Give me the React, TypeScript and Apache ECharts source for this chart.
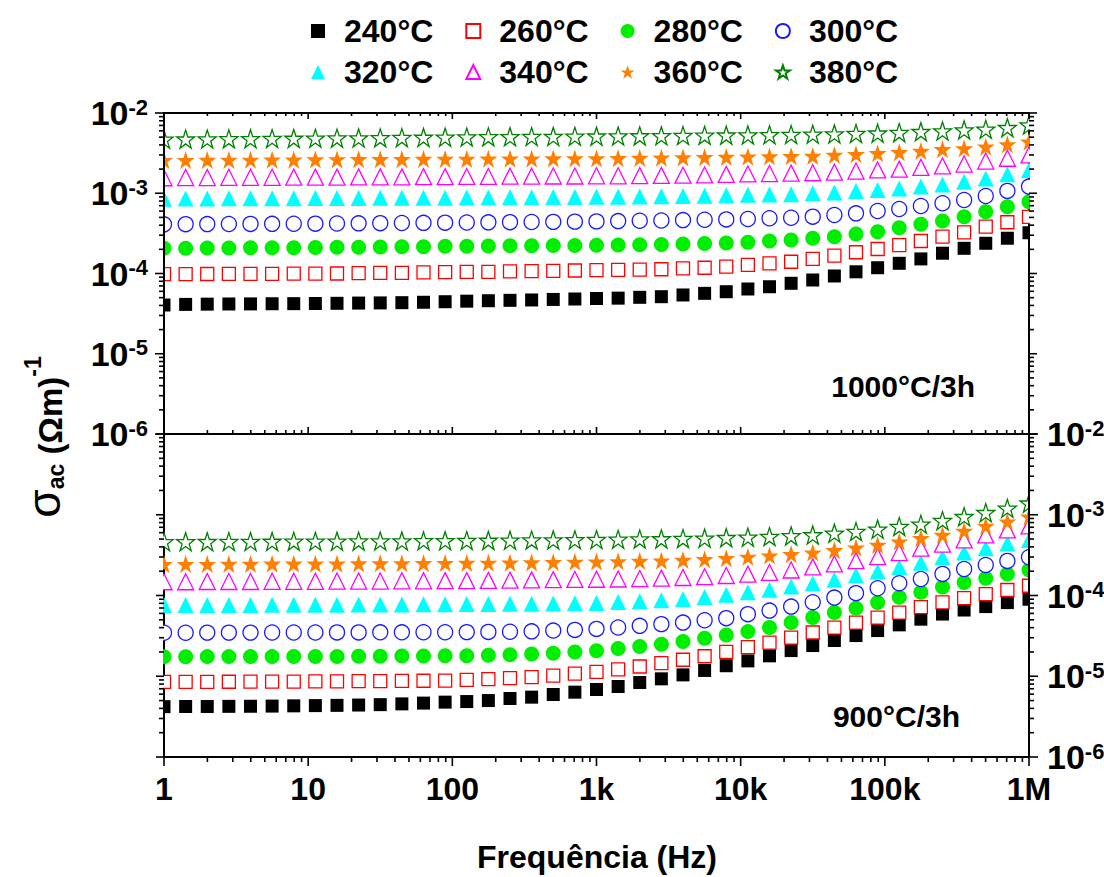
import React, { useEffect, useRef } from 'react';
import * as echarts from 'echarts';

// Frequencies (Hz), 20 points every 3 decades
const frequencies = [
  1, 1.413, 1.995, 2.818, 3.981, 5.623, 7.943, 11.22, 15.85, 22.39, 31.62, 44.67, 63.1, 89.13,
  125.9, 177.8, 251.2, 354.8, 501.2, 707.9, 1000, 1413, 1995, 2818, 3981, 5623, 7943, 11220,
  15850, 22390, 31620, 44670, 63100, 89130, 125900, 177800, 251200, 354800, 501200, 707900, 1000000,
];

const seriesNames = ['240°C', '260°C', '280°C', '300°C', '320°C', '340°C', '360°C', '380°C'];
const panelLabels = ['1000°C/3h', '900°C/3h'];
const xTickLabels = ['1', '10', '100', '1k', '10k', '100k', '1M'];
const xDecades = [1, 10, 100, 1e3, 1e4, 1e5, 1e6];
const yDecades = [1e-6, 1e-5, 1e-4, 1e-3, 1e-2];
const xTitle = 'Frequência (Hz)';

// ---- 1000°C/3h (top panel) ----
const top240 = [4.05e-5, 4.12e-5, 4.15e-5, 4.17e-5, 4.18e-5, 4.2e-5, 4.21e-5, 4.23e-5, 4.25e-5, 4.28e-5, 4.3e-5, 4.33e-5, 4.38e-5, 4.45e-5, 4.52e-5, 4.58e-5, 4.63e-5, 4.68e-5, 4.75e-5, 4.81e-5, 4.88e-5, 4.93e-5, 5.05e-5, 5.14e-5, 5.4e-5, 5.66e-5, 5.93e-5, 6.41e-5, 6.84e-5, 7.55e-5, 8.3e-5, 9.31e-5, 1.05e-4, 1.18e-4, 1.34e-4, 1.52e-4, 1.79e-4, 2.06e-4, 2.38e-4, 2.75e-4, 3.22e-4];
const top260 = [9.8e-5, 9.85e-5, 9.86e-5, 9.88e-5, 9.9e-5, 9.92e-5, 9.95e-5, 9.98e-5, 1.0e-4, 1.01e-4, 1.02e-4, 1.02e-4, 1.03e-4, 1.04e-4, 1.05e-4, 1.05e-4, 1.06e-4, 1.07e-4, 1.08e-4, 1.09e-4, 1.1e-4, 1.11e-4, 1.12e-4, 1.13e-4, 1.16e-4, 1.18e-4, 1.22e-4, 1.28e-4, 1.34e-4, 1.4e-4, 1.52e-4, 1.67e-4, 1.84e-4, 2.02e-4, 2.26e-4, 2.54e-4, 2.88e-4, 3.26e-4, 3.83e-4, 4.35e-4, 5.09e-4];
const top280 = [2.06e-4, 2.07e-4, 2.08e-4, 2.08e-4, 2.09e-4, 2.1e-4, 2.1e-4, 2.11e-4, 2.12e-4, 2.13e-4, 2.14e-4, 2.15e-4, 2.16e-4, 2.18e-4, 2.19e-4, 2.2e-4, 2.21e-4, 2.22e-4, 2.23e-4, 2.24e-4, 2.25e-4, 2.26e-4, 2.28e-4, 2.3e-4, 2.33e-4, 2.36e-4, 2.4e-4, 2.45e-4, 2.54e-4, 2.61e-4, 2.75e-4, 2.88e-4, 3.1e-4, 3.32e-4, 3.72e-4, 4.1e-4, 4.51e-4, 5.11e-4, 5.89e-4, 6.79e-4, 7.85e-4];
const top300 = [4.1e-4, 4.12e-4, 4.13e-4, 4.14e-4, 4.15e-4, 4.16e-4, 4.17e-4, 4.18e-4, 4.2e-4, 4.22e-4, 4.24e-4, 4.26e-4, 4.28e-4, 4.3e-4, 4.32e-4, 4.34e-4, 4.36e-4, 4.38e-4, 4.4e-4, 4.43e-4, 4.46e-4, 4.5e-4, 4.54e-4, 4.58e-4, 4.63e-4, 4.68e-4, 4.72e-4, 4.78e-4, 4.88e-4, 4.95e-4, 5.11e-4, 5.36e-4, 5.62e-4, 6.01e-4, 6.37e-4, 6.93e-4, 7.5e-4, 8.24e-4, 9.25e-4, 1.07e-3, 1.21e-3];
const top320 = [8.55e-4, 8.6e-4, 8.62e-4, 8.64e-4, 8.65e-4, 8.66e-4, 8.68e-4, 8.7e-4, 8.72e-4, 8.74e-4, 8.76e-4, 8.78e-4, 8.8e-4, 8.82e-4, 8.85e-4, 8.88e-4, 8.9e-4, 8.93e-4, 8.96e-4, 9.0e-4, 9.03e-4, 9.06e-4, 9.1e-4, 9.18e-4, 9.25e-4, 9.32e-4, 9.45e-4, 9.55e-4, 9.65e-4, 9.75e-4, 9.98e-4, 1.02e-3, 1.07e-3, 1.1e-3, 1.15e-3, 1.21e-3, 1.29e-3, 1.39e-3, 1.53e-3, 1.72e-3, 1.95e-3];
const top340 = [1.56e-3, 1.57e-3, 1.57e-3, 1.58e-3, 1.58e-3, 1.58e-3, 1.59e-3, 1.59e-3, 1.59e-3, 1.6e-3, 1.6e-3, 1.6e-3, 1.61e-3, 1.61e-3, 1.62e-3, 1.62e-3, 1.63e-3, 1.63e-3, 1.64e-3, 1.64e-3, 1.65e-3, 1.65e-3, 1.66e-3, 1.67e-3, 1.68e-3, 1.69e-3, 1.72e-3, 1.74e-3, 1.76e-3, 1.78e-3, 1.8e-3, 1.83e-3, 1.89e-3, 1.95e-3, 2.0e-3, 2.1e-3, 2.19e-3, 2.31e-3, 2.52e-3, 2.73e-3, 3.0e-3];
const top360 = [2.58e-3, 2.59e-3, 2.6e-3, 2.6e-3, 2.61e-3, 2.62e-3, 2.62e-3, 2.63e-3, 2.64e-3, 2.65e-3, 2.65e-3, 2.66e-3, 2.67e-3, 2.68e-3, 2.68e-3, 2.69e-3, 2.7e-3, 2.7e-3, 2.71e-3, 2.72e-3, 2.72e-3, 2.73e-3, 2.75e-3, 2.77e-3, 2.79e-3, 2.81e-3, 2.83e-3, 2.85e-3, 2.87e-3, 2.89e-3, 2.92e-3, 3.0e-3, 3.06e-3, 3.15e-3, 3.24e-3, 3.36e-3, 3.53e-3, 3.63e-3, 3.8e-3, 4.07e-3, 4.39e-3];
const top380 = [4.7e-3, 4.72e-3, 4.74e-3, 4.76e-3, 4.78e-3, 4.8e-3, 4.82e-3, 4.84e-3, 4.86e-3, 4.88e-3, 4.9e-3, 4.93e-3, 4.96e-3, 4.99e-3, 5.02e-3, 5.04e-3, 5.06e-3, 5.08e-3, 5.1e-3, 5.12e-3, 5.14e-3, 5.16e-3, 5.18e-3, 5.2e-3, 5.23e-3, 5.26e-3, 5.29e-3, 5.32e-3, 5.35e-3, 5.38e-3, 5.43e-3, 5.48e-3, 5.55e-3, 5.6e-3, 5.69e-3, 5.85e-3, 5.97e-3, 6.14e-3, 6.27e-3, 6.56e-3, 7.08e-3];

// ---- 900°C/3h (bottom panel) ----
const bot240 = [4.2e-6, 4.22e-6, 4.22e-6, 4.24e-6, 4.25e-6, 4.27e-6, 4.3e-6, 4.33e-6, 4.36e-6, 4.4e-6, 4.45e-6, 4.55e-6, 4.65e-6, 4.78e-6, 4.86e-6, 5.0e-6, 5.3e-6, 5.51e-6, 5.94e-6, 6.35e-6, 6.85e-6, 7.46e-6, 8.36e-6, 9.29e-6, 1.04e-5, 1.18e-5, 1.35e-5, 1.55e-5, 1.79e-5, 2.08e-5, 2.4e-5, 2.77e-5, 3.19e-5, 3.68e-5, 4.33e-5, 5.09e-5, 5.89e-5, 6.61e-5, 7.29e-5, 8.17e-5, 8.99e-5];
const bot260 = [8.5e-6, 8.52e-6, 8.54e-6, 8.55e-6, 8.56e-6, 8.58e-6, 8.6e-6, 8.62e-6, 8.65e-6, 8.68e-6, 8.72e-6, 8.76e-6, 8.8e-6, 8.85e-6, 9.02e-6, 9.2e-6, 9.46e-6, 9.75e-6, 1.02e-5, 1.08e-5, 1.13e-5, 1.22e-5, 1.32e-5, 1.45e-5, 1.6e-5, 1.77e-5, 2.0e-5, 2.29e-5, 2.61e-5, 3.01e-5, 3.48e-5, 4.01e-5, 4.62e-5, 5.33e-5, 6.15e-5, 7.16e-5, 8.22e-5, 9.27e-5, 1.04e-4, 1.17e-4, 1.32e-4];
const bot280 = [1.74e-5, 1.74e-5, 1.75e-5, 1.75e-5, 1.75e-5, 1.75e-5, 1.76e-5, 1.76e-5, 1.76e-5, 1.77e-5, 1.77e-5, 1.78e-5, 1.78e-5, 1.79e-5, 1.8e-5, 1.82e-5, 1.84e-5, 1.89e-5, 1.93e-5, 2.0e-5, 2.07e-5, 2.2e-5, 2.33e-5, 2.49e-5, 2.69e-5, 2.96e-5, 3.25e-5, 3.57e-5, 4.01e-5, 4.62e-5, 5.33e-5, 6.15e-5, 6.97e-5, 8.17e-5, 9.53e-5, 1.1e-4, 1.27e-4, 1.45e-4, 1.64e-4, 1.85e-4, 2.07e-4];
const bot300 = [3.46e-5, 3.46e-5, 3.47e-5, 3.47e-5, 3.47e-5, 3.48e-5, 3.48e-5, 3.48e-5, 3.49e-5, 3.49e-5, 3.5e-5, 3.5e-5, 3.51e-5, 3.51e-5, 3.52e-5, 3.54e-5, 3.56e-5, 3.6e-5, 3.68e-5, 3.75e-5, 3.86e-5, 4.01e-5, 4.21e-5, 4.42e-5, 4.62e-5, 4.94e-5, 5.24e-5, 5.87e-5, 6.5e-5, 7.29e-5, 8.26e-5, 9.42e-5, 1.07e-4, 1.23e-4, 1.42e-4, 1.6e-4, 1.85e-4, 2.13e-4, 2.39e-4, 2.68e-4, 2.98e-4];
const bot320 = [7.6e-5, 7.62e-5, 7.63e-5, 7.64e-5, 7.65e-5, 7.66e-5, 7.67e-5, 7.68e-5, 7.7e-5, 7.72e-5, 7.74e-5, 7.76e-5, 7.78e-5, 7.8e-5, 7.83e-5, 7.86e-5, 7.89e-5, 7.93e-5, 7.97e-5, 8.02e-5, 8.1e-5, 8.3e-5, 8.5e-5, 8.75e-5, 9.05e-5, 9.6e-5, 1.02e-4, 1.1e-4, 1.18e-4, 1.29e-4, 1.42e-4, 1.57e-4, 1.78e-4, 1.98e-4, 2.26e-4, 2.55e-4, 2.98e-4, 3.4e-4, 3.85e-4, 4.4e-4, 4.88e-4];
const bot340 = [1.48e-4, 1.48e-4, 1.49e-4, 1.49e-4, 1.49e-4, 1.5e-4, 1.5e-4, 1.5e-4, 1.51e-4, 1.51e-4, 1.51e-4, 1.52e-4, 1.52e-4, 1.53e-4, 1.53e-4, 1.54e-4, 1.55e-4, 1.56e-4, 1.57e-4, 1.58e-4, 1.59e-4, 1.6e-4, 1.62e-4, 1.64e-4, 1.67e-4, 1.71e-4, 1.77e-4, 1.84e-4, 1.93e-4, 2.07e-4, 2.26e-4, 2.46e-4, 2.7e-4, 3.03e-4, 3.4e-4, 3.85e-4, 4.32e-4, 4.88e-4, 5.62e-4, 6.49e-4, 7.27e-4];
const bot360 = [2.44e-4, 2.45e-4, 2.45e-4, 2.46e-4, 2.46e-4, 2.47e-4, 2.47e-4, 2.48e-4, 2.48e-4, 2.49e-4, 2.5e-4, 2.5e-4, 2.51e-4, 2.52e-4, 2.53e-4, 2.54e-4, 2.55e-4, 2.57e-4, 2.59e-4, 2.61e-4, 2.63e-4, 2.65e-4, 2.67e-4, 2.7e-4, 2.75e-4, 2.81e-4, 2.9e-4, 3.0e-4, 3.12e-4, 3.24e-4, 3.4e-4, 3.63e-4, 3.9e-4, 4.23e-4, 4.65e-4, 5.12e-4, 5.62e-4, 6.31e-4, 7.27e-4, 8.22e-4, 9.46e-4];
const bot380 = [4.62e-4, 4.63e-4, 4.64e-4, 4.65e-4, 4.66e-4, 4.67e-4, 4.68e-4, 4.69e-4, 4.7e-4, 4.71e-4, 4.72e-4, 4.73e-4, 4.75e-4, 4.77e-4, 4.79e-4, 4.81e-4, 4.83e-4, 4.85e-4, 4.87e-4, 4.9e-4, 4.93e-4, 4.96e-4, 4.99e-4, 5.02e-4, 5.06e-4, 5.12e-4, 5.2e-4, 5.27e-4, 5.36e-4, 5.47e-4, 5.62e-4, 5.9e-4, 6.18e-4, 6.62e-4, 7.13e-4, 7.62e-4, 8.45e-4, 9.46e-4, 1.06e-3, 1.2e-3, 1.39e-3];

const topPanel = [top240, top260, top280, top300, top320, top340, top360, top380];
const bottomPanel = [bot240, bot260, bot280, bot300, bot320, bot340, bot360, bot380];

const FONT = "'Liberation Sans', Arial, sans-serif";
const STAR = 'path://M50,0L61.8,35.1L98.9,35.1L69.1,57.3L80.3,92.7L50,70.8L19.7,92.7L30.9,57.3L1.1,35.1L38.2,35.1Z';

const markerStyles = [
  { symbol: 'rect', size: 13, fill: '#000000', stroke: '#000000', open: false },
  { symbol: 'rect', size: 13, fill: '#ffffff', stroke: '#ff0000', open: true },
  { symbol: 'circle', size: 15, fill: '#00ee00', stroke: '#00ee00', open: false },
  { symbol: 'circle', size: 15, fill: '#ffffff', stroke: '#1a1aff', open: true },
  { symbol: 'triangle', size: 16, fill: '#00ffff', stroke: '#00ffff', open: false },
  { symbol: 'triangle', size: 16, fill: '#ffffff', stroke: '#ff00ff', open: true },
  { symbol: STAR, size: 18, fill: '#ff8000', stroke: '#ff8000', open: false },
  { symbol: STAR, size: 18, fill: '#ffffff', stroke: '#008000', open: true },
];

// tick list for a log axis: [value, isMajor]
function logTicks(decades: number[]) {
  const out: number[][] = [];
  for (let i = 0; i < decades.length; i++) {
    out.push([decades[i], 1]);
    if (i < decades.length - 1) for (let m = 2; m <= 9; m++) out.push([decades[i] * m, 0]);
  }
  return out;
}
const xTickList = logTicks(xDecades);
const yTickList = logTicks(yDecades);

const GRID_LEFT = 164;
const GRID_RIGHT_X = 1029;

const yLabelRich = {
  b: { fontSize: 34, fontWeight: 'bold', fontFamily: FONT, color: '#000', verticalAlign: 'bottom', lineHeight: 34 },
  e: { fontSize: 22, fontWeight: 'bold', fontFamily: FONT, color: '#000', verticalAlign: 'top', lineHeight: 22, padding: [0, 0, 18, 0] },
};

function xData(grid: number, labels: boolean) {
  return {
    type: 'log', logBase: 10, gridIndex: grid, position: 'bottom', min: 1, max: 1e6, z: 10,
    axisLine: { show: true, onZero: false, lineStyle: { color: '#000', width: 2 } },
    axisTick: { show: false },
    axisLabel: labels
      ? {
          show: true, margin: 16, showMinLabel: true, showMaxLabel: true,
          formatter: (v: number) => xTickLabels[Math.round(Math.log10(v))],
          fontSize: 32, fontWeight: 'bold', fontFamily: FONT, color: '#000',
        }
      : { show: false },
    splitLine: { show: false },
  };
}

function yData(grid: number, position: string) {
  return {
    type: 'log', logBase: 10, gridIndex: grid, position, min: 1e-6, max: 1e-2, z: 10,
    axisLine: { show: true, onZero: false, lineStyle: { color: '#000', width: 2 } },
    axisTick: { show: false },
    axisLabel: {
      show: true, margin: position === 'left' ? 16 : 18, showMinLabel: true, showMaxLabel: true,
      formatter: (v: number) => `{b|10}{e|${Math.round(Math.log10(v))}}`,
      rich: yLabelRich,
    },
    splitLine: { show: false },
  };
}

// tick spec per grid side: [major length, minor length, direction] (+1 outward, -1 inward)
const tickSpec: any[] = [
  { bottom: [7, 4, -1], top: [6, 3, -1], left: [9, 5, 1], right: [8, 5, 1] },
  { bottom: [9, 5, 1], top: null, left: [8, 5, 1], right: [9, 5, 1] },
];

function tickSeries(grid: number, axisKind: 'x' | 'y') {
  const spec = tickSpec[grid];
  const list = axisKind === 'x' ? xTickList : yTickList;
  return {
    type: 'custom',
    name: `_ticks_${axisKind}${grid}`,
    xAxisIndex: grid,
    yAxisIndex: grid,
    clip: false,
    silent: true,
    z: 11,
    data: list.map(([v, major]) => (axisKind === 'x' ? [v, 1e-4, major] : [10, v, major])),
    renderItem: (params: any, api: any) => {
      const cs = params.coordSys;
      const idx = api.value(2) === 1 ? 0 : 1;
      const children: any[] = [];
      const st = { stroke: '#000', lineWidth: 1.6 };
      if (axisKind === 'x') {
        const x = api.coord([api.value(0), 1e-4])[0];
        const yb = cs.y + cs.height;
        const yt = cs.y;
        if (spec.bottom) {
          const len = spec.bottom[idx] * spec.bottom[2];
          children.push({ type: 'line', shape: { x1: x, y1: yb, x2: x, y2: yb + len }, style: st });
        }
        if (spec.top) {
          const len = spec.top[idx] * spec.top[2];
          children.push({ type: 'line', shape: { x1: x, y1: yt, x2: x, y2: yt - len }, style: st });
        }
      } else {
        const y = api.coord([10, api.value(1)])[1];
        const xl = cs.x;
        const xr = cs.x + cs.width;
        if (spec.left) {
          const len = spec.left[idx] * spec.left[2];
          children.push({ type: 'line', shape: { x1: xl, y1: y, x2: xl - len, y2: y }, style: st });
        }
        if (spec.right) {
          const len = spec.right[idx] * spec.right[2];
          children.push({ type: 'line', shape: { x1: xr, y1: y, x2: xr + len, y2: y }, style: st });
        }
      }
      return { type: 'group', children };
    },
  };
}

function buildOption() {
  const xAxis = [xData(0, false), xData(1, true)];
  const yAxis = [yData(0, 'left'), yData(1, 'right')];

  const series: any[] = [];
  [topPanel, bottomPanel].forEach((panel, p) => {
    panel.forEach((vals, i) => {
      const st = markerStyles[i];
      series.push({
        type: 'scatter',
        name: seriesNames[i],
        xAxisIndex: p,
        yAxisIndex: p,
        symbol: st.symbol,
        symbolSize: st.size,
        z: 2,
        itemStyle: {
          color: st.fill,
          borderColor: st.stroke,
          borderWidth: st.open ? 1.3 : 0,
          opacity: 1,
        },
        emphasis: { disabled: true },
        data: frequencies.map((f, k) => [f, vals[k]]),
      });
    });
  });
  series.push(tickSeries(0, 'x'), tickSeries(0, 'y'), tickSeries(1, 'x'), tickSeries(1, 'y'));

  const legendBase = {
    left: 306,
    orient: 'horizontal',
    itemWidth: 14,
    itemHeight: 14,
    itemGap: 32,
    selectedMode: false,
    formatter: (n: string) => `{t|${n}}`,
    textStyle: {
      rich: {
        t: { fontSize: 32, fontWeight: 'bold', fontFamily: FONT, color: '#000', padding: [0, 0, 0, 14] },
      },
    },
  };

  const gridBase = {
    left: GRID_LEFT, width: GRID_RIGHT_X - GRID_LEFT, containLabel: false, outerBoundsMode: 'none',
    show: true, borderColor: '#000', borderWidth: 2, backgroundColor: 'transparent',
  };

  return {
    animation: false,
    backgroundColor: '#ffffff',
    grid: [
      { ...gridBase, top: 113, height: 321 },
      { ...gridBase, top: 434, height: 323 },
    ],
    legend: [
      { ...legendBase, top: 10, data: seriesNames.slice(0, 4) },
      { ...legendBase, top: 51, data: seriesNames.slice(4) },
    ],
    xAxis,
    yAxis,
    series,
    graphic: [
      // mask half-markers that fall outside the plot frame
      { type: 'rect', shape: { x: 100, y: 100, width: GRID_LEFT - 101, height: 670 }, style: { fill: '#ffffff' }, z: 5 },
      { type: 'rect', shape: { x: GRID_RIGHT_X + 1, y: 100, width: 14, height: 670 }, style: { fill: '#ffffff' }, z: 5 },
      {
        type: 'text', x: 975, y: 386, z: 20,
        style: { text: panelLabels[0], font: `bold 30px ${FONT}`, fill: '#000', textAlign: 'right', textVerticalAlign: 'middle' },
      },
      {
        type: 'text', x: 960, y: 716, z: 20,
        style: { text: panelLabels[1], font: `bold 30px ${FONT}`, fill: '#000', textAlign: 'right', textVerticalAlign: 'middle' },
      },
      {
        type: 'text', x: 597, y: 857, z: 20,
        style: { text: xTitle, font: `bold 32px ${FONT}`, fill: '#000', textAlign: 'center', textVerticalAlign: 'middle' },
      },
      {
        type: 'text', x: 44, y: 437, rotation: Math.PI / 2, z: 20,
        style: {
          text: '{g|σ}{sub|ac}{n| (Ωm)}{sup|-1}',
          textAlign: 'center',
          textVerticalAlign: 'middle',
          rich: {
            g: { fontSize: 46, fontFamily: FONT, color: '#000', verticalAlign: 'bottom', lineHeight: 46 },
            sub: { fontSize: 23, fontWeight: 'bold', fontFamily: FONT, color: '#000', verticalAlign: 'bottom', lineHeight: 26 },
            n: { fontSize: 33, fontWeight: 'bold', fontFamily: FONT, color: '#000', verticalAlign: 'bottom', lineHeight: 38 },
            sup: { fontSize: 23, fontWeight: 'bold', fontFamily: FONT, color: '#000', verticalAlign: 'top', lineHeight: 23 },
          },
        },
      },
    ],
  };
}

export default function App() {
  const ref = useRef<HTMLDivElement>(null);
  useEffect(() => {
    document.body.style.margin = '0';
    const chart = echarts.init(ref.current as HTMLDivElement, null, { renderer: 'svg' });
    chart.setOption(buildOption() as any);
    return () => chart.dispose();
  }, []);
  return <div ref={ref} style={{ width: 1104, height: 877 }} />;
}
